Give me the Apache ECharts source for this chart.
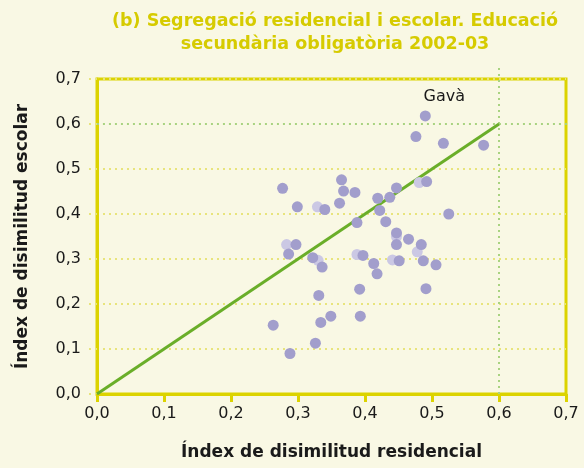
<!DOCTYPE html>
<html>
<head>
<meta charset="utf-8">
<script src="https://cdn.jsdelivr.net/npm/echarts@6/dist/echarts.min.js"></script>
<style>
  html, body { margin: 0; padding: 0; background: #f9f8e4; }
  #chart { width: 584px; height: 468px; }
</style>
</head>
<body>
<div id="chart"></div>
<script>
// municipis: index residencial (x) i escolar (y)
var resid = [0.490, 0.476, 0.517, 0.577, 0.277, 0.365, 0.368, 0.385, 0.447, 0.492,
  0.419, 0.437, 0.299, 0.340, 0.362, 0.422, 0.388, 0.431, 0.525, 0.447,
  0.465, 0.447, 0.484, 0.487, 0.506, 0.451, 0.413, 0.418, 0.397, 0.392,
  0.491, 0.393, 0.297, 0.286, 0.322, 0.336, 0.331, 0.349, 0.334, 0.263,
  0.326, 0.288];
var escolar = [0.618, 0.572, 0.557, 0.553, 0.457, 0.476, 0.451, 0.448, 0.458, 0.472,
  0.435, 0.437, 0.416, 0.410, 0.424, 0.408, 0.381, 0.383, 0.400, 0.358,
  0.344, 0.332, 0.332, 0.296, 0.287, 0.296, 0.290, 0.267, 0.308, 0.233,
  0.234, 0.173, 0.332, 0.311, 0.303, 0.282, 0.219, 0.173, 0.159, 0.153,
  0.113, 0.090];
var noms = ['Gavà'];
// punts de color clar
var residClar = [0.481, 0.329, 0.447, 0.478, 0.441, 0.388, 0.283, 0.330];
var escolarClar = [0.470, 0.416, 0.350, 0.316, 0.298, 0.310, 0.332, 0.297];
// diagonal i linies de referencia a 0,6
var diagonal = [[0, 0], [0.6, 0.6]];
var refX = [[0.6, 0], [0.6, 0.727]];
var refY = [[-0.018, 0.6], [0.72, 0.6]];

var groc = '#dcd300';
var font = 'DejaVu Sans';
var fmt = function (v) { return v.toFixed(1).replace('.', ','); };

var myChart = echarts.init(document.getElementById('chart'));
var puntsFosc = resid.map(function (x, i) {
  return { value: [x, escolar[i]], name: noms[i] || '' };
});
var puntsClar = residClar.map(function (x, i) { return [x, escolarClar[i]]; });

var option = {
  backgroundColor: '#f9f8e4',
  animation: false,
  textStyle: { fontFamily: font },
  title: {
    text: '(b) Segregació residencial i escolar. Educació\nsecundària obligatòria 2002-03',
    left: 330,
    top: 5,
    textAlign: 'center',
    padding: 5,
    textStyle: { fontFamily: font, color: '#d6cb00', fontSize: 17.5, fontWeight: 'bold', lineHeight: 23 }
  },
  grid: {
    left: 97, right: 18, top: 79, bottom: 74,
    show: true, borderColor: groc, borderWidth: 3
  },
  xAxis: {
    type: 'value', min: 0, max: 0.7, interval: 0.1,
    name: 'Índex de disimilitud residencial',
    nameLocation: 'middle', nameGap: 50,
    nameTextStyle: { fontFamily: font, fontSize: 17, fontWeight: 'bold', color: '#1a1a1a' },
    axisLine: { lineStyle: { color: groc, width: 3 } },
    axisTick: { length: 8, lineStyle: { color: groc, width: 3 } },
    axisLabel: { fontFamily: font, formatter: fmt, fontSize: 16, color: '#1a1a1a', margin: 12 },
    splitLine: { show: false }
  },
  yAxis: {
    type: 'value', min: 0, max: 0.7, interval: 0.1,
    name: 'Índex de disimilitud escolar',
    nameLocation: 'middle', nameGap: 66,
    nameTextStyle: { fontFamily: font, fontSize: 17, fontWeight: 'bold', color: '#1a1a1a' },
    axisLine: { lineStyle: { color: groc, width: 3 } },
    axisTick: { length: 11, lineStyle: { color: '#e8e47c', width: 2, type: [2, 4] } },
    axisLabel: { fontFamily: font, formatter: fmt, fontSize: 16, color: '#1a1a1a', margin: 16 },
    splitLine: {
      lineStyle: {
        color: ['#e8e47c', '#e8e47c', '#e8e47c', '#e8e47c', '#e8e47c', '#e8e47c', 'transparent', '#e8e47c'],
        width: 2, type: [2, 4]
      }
    }
  },
  series: [
    {
      type: 'line', data: refX, clip: false, symbol: 'none', silent: true,
      lineStyle: { color: '#a9d381', width: 2, type: [2, 4] }, z: 1
    },
    {
      type: 'line', data: refY, clip: false, symbol: 'none', silent: true,
      lineStyle: { color: '#a9d381', width: 2, type: [2, 4] }, z: 1
    },
    {
      type: 'line', data: diagonal, symbol: 'none', silent: true,
      lineStyle: { color: '#6aae29', width: 3 }, z: 3
    },
    {
      type: 'scatter', data: puntsClar, symbolSize: 11,
      itemStyle: { color: '#cbc8e4', opacity: 1 }, z: 4
    },
    {
      type: 'scatter', data: puntsFosc, symbolSize: 11,
      itemStyle: { color: '#a29ecc', opacity: 1 }, z: 5,
      label: {
        show: true, position: 'top', distance: 6, offset: [19, 0],
        formatter: function (p) { return p.name; },
        fontFamily: font, fontSize: 16, color: '#1a1a1a'
      }
    }
  ]
};
myChart.setOption(option);
</script>
</body>
</html>
